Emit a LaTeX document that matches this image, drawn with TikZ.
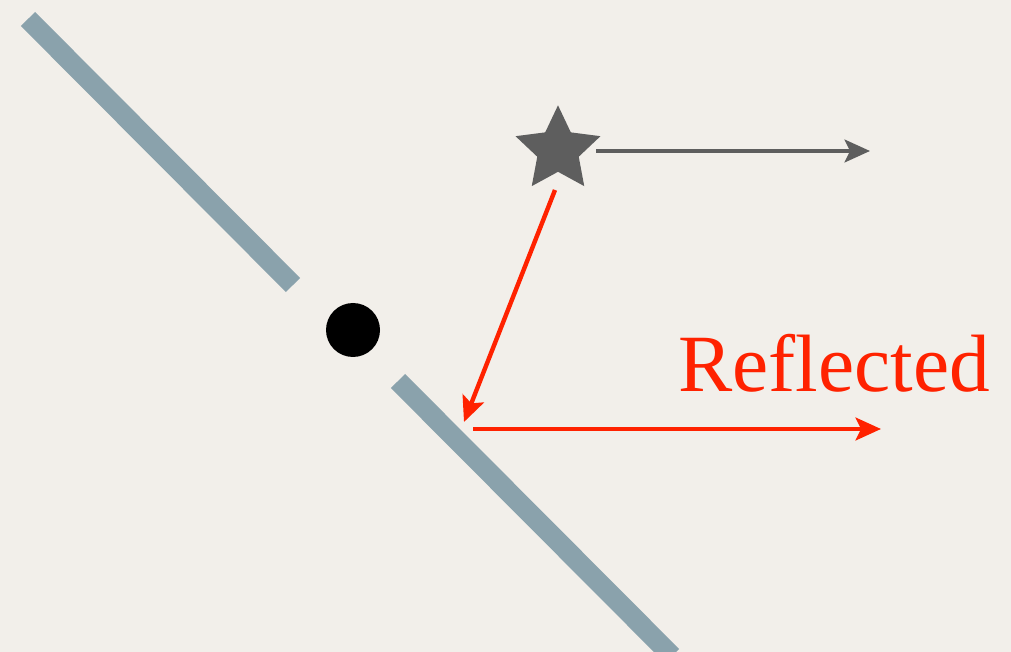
\documentclass[tikz,border=0pt]{standalone}
\usepackage{fontspec}
\newfontfamily\reffont{Liberation Serif}
\usetikzlibrary{shapes.geometric,arrows.meta}
\definecolor{bg}{HTML}{F2EFEA}
\definecolor{mirror}{HTML}{8AA2AC}
\definecolor{redray}{HTML}{FF2200}
\definecolor{starc}{HTML}{5E5E5E}
\tikzset{
  mirrorline/.style={draw=mirror, line width=15pt, line cap=butt},
  rayarrow/.style={line width=3.3pt, -{Stealth[length=19pt, width=17pt, inset=4pt]}},
}
\begin{document}
\begin{tikzpicture}[x=0.75pt, y=-0.75pt]
\fill[bg] (0,0) rectangle (1011,652);
\useasboundingbox (0,0) rectangle (1011,652);
% mirrors
\coordinate (m1a) at (28,19);
\coordinate (m1b) at (293,285);
\coordinate (m2a) at (398,381);
\coordinate (m2b) at (672,656);
\draw[mirrorline] (m1a) -- (m1b);
\draw[mirrorline] (m2a) -- (m2b);
% dot
\node[circle, fill=black, minimum size=40.5pt, inner sep=0pt] (dot) at (353,330) {};
% star
\node[star, star points=5, star point ratio=2.05, fill=starc, minimum size=67pt, inner sep=0pt] (star) at (558,150) {};
% rays
\coordinate (g0) at (596,151);
\coordinate (g1) at (870,151);
\coordinate (r0) at (555,190);
\coordinate (r1) at (464,422);
\coordinate (r2) at (473,429);
\coordinate (r3) at (881,429);
\draw[rayarrow, draw=starc, fill=starc, line width=3pt] (g0) -- (g1);
\draw[rayarrow, draw=redray, fill=redray] (r0) -- (r1);
\draw[rayarrow, draw=redray, fill=redray] (r2) -- (r3);
\node[anchor=base west, inner sep=0pt, text=redray, font=\reffont\fontsize{61}{64}\selectfont] (lbl) at (678,392) {Reflected};
\end{tikzpicture}
\end{document}
